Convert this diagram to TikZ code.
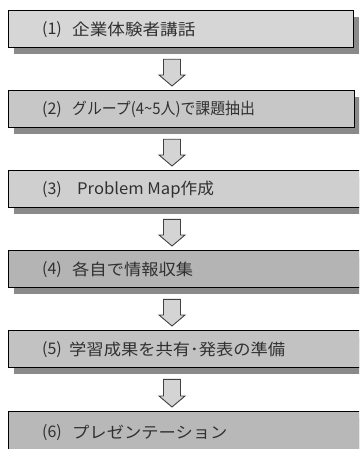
\documentclass[tikz,border=0pt]{standalone}
\usepackage{graphicx}
\usepackage{fontspec}
\setmainfont{Noto Sans CJK JP}
\usetikzlibrary{shadows,calc}
\definecolor{fA}{HTML}{D6D6D6}
\definecolor{fB}{HTML}{C7C7C7}
\definecolor{fC}{HTML}{CFCFCF}
\definecolor{fD}{HTML}{B4B4B4}
\definecolor{fE}{HTML}{C2C2C2}
\definecolor{fF}{HTML}{B8B8B8}
\definecolor{shd}{HTML}{8A8A8A}
\definecolor{arrfill}{HTML}{D4D4D4}
\definecolor{arrline}{HTML}{404040}
\definecolor{txt}{HTML}{303030}
\newcommand{\wide}[2][1.08]{\scalebox{#1}[1]{#2}}
\begin{document}
\begin{tikzpicture}[x=1pt,y=-1pt,
  stepbox/.style={draw=black, line width=1.3pt, anchor=north west,
    minimum height=37pt, inner sep=0pt,
    drop shadow={shadow xshift=5pt, shadow yshift=-6pt, fill=shd, opacity=1}},
  lab/.style={anchor=west, inner sep=0pt, text=txt, font=\fontsize{16}{16}\selectfont},
  blockarrow/.style={draw=arrline, line width=0.9pt, fill=arrfill, line join=miter}]
\useasboundingbox (0,0) rectangle (359,449);
\clip (0,0) rectangle (359,449);
\coordinate (ax) at (172,0);
% boxes
\node[stepbox, fill=fA, minimum width=345pt] (b1) at (8,10) {};
\node[stepbox, fill=fB, minimum width=346pt] (b2) at (8,90) {};
\node[stepbox, fill=fC, minimum width=380pt] (b3) at (8,170) {};
\node[stepbox, fill=fD, minimum width=380pt] (b4) at (8,250) {};
\node[stepbox, fill=fE, minimum width=380pt] (b5) at (8,330) {};
\node[stepbox, fill=fF, minimum width=380pt, minimum height=42pt] (b6) at (8,411) {};
% labels
\foreach \i in {1,...,6}{
  \node[lab] (n\i) at ([xshift=34pt]b\i.west) {(\i)};
}
\node[lab] (t1) at ([xshift=64pt]b1.west) {\wide[1.1]{企業体験者講話}};
\node[lab] (t2) at ([xshift=64pt]b2.west) {\wide[0.93]{グループ(4\textasciitilde 5人)で課題抽出}};
\node[lab] (t3) at ([xshift=69pt]b3.west) {\wide[1.04]{Problem Map作成}};
\node[lab] (t4) at ([xshift=64pt]b4.west) {\wide{各自で情報収集}};
\node[lab] (t5) at ([xshift=61pt]b5.west) {\wide{学習成果を共有･発表の準備}};
\node[lab] (t6) at ([xshift=64pt]b6.west) {\wide{プレゼンテーション}};
% arrows
\foreach \a/\b/\n in {b1/b2/a1,b2/b3/a2,b3/b4/a3,b4/b5/a4,b5/b6/a5}{
  \coordinate (s\n) at ([yshift=-11pt]\a.south -| ax);
  \coordinate (e\n) at ([yshift=4pt]\b.north -| ax);
  \draw[blockarrow] ($(s\n)+(-8.5,0)$) -- ($(e\n)+(-8.5,-11)$) -- ($(e\n)+(-13,-11)$)
    -- (e\n) -- ($(e\n)+(13,-11)$) -- ($(e\n)+(8.5,-11)$) -- ($(s\n)+(8.5,0)$) -- cycle;
}
\end{tikzpicture}
\end{document}
